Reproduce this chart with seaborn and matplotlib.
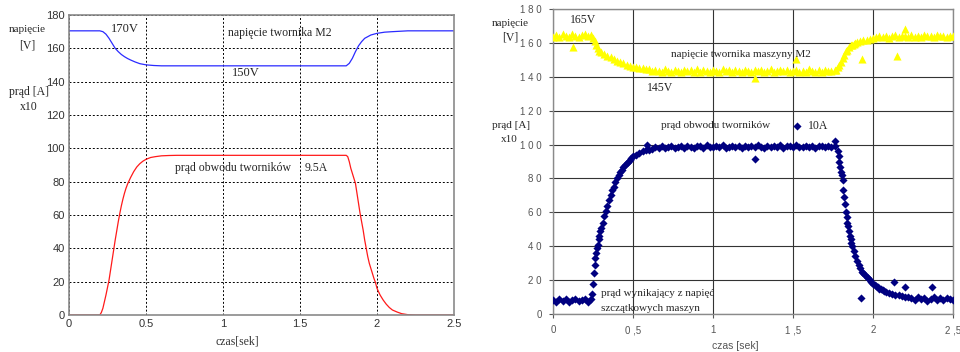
import numpy as np
import pandas as pd
import matplotlib
matplotlib.use("Agg")
import matplotlib.pyplot as plt
import seaborn as sns

# ---- dane: symulacja (lewy wykres) ----
sim_t_u = [0, 0.20, 0.22, 0.24, 0.26, 0.28, 0.30, 0.32, 0.34, 0.36, 0.38, 0.40, 0.43, 0.46,
           0.50, 0.55, 0.60, 1.0, 1.5, 1.80, 1.82, 1.84, 1.86, 1.88, 1.90, 1.92, 1.94, 1.96,
           1.98, 2.00, 2.05, 2.10, 2.20, 2.50]
sim_u = [170.5, 170.5, 170, 168.5, 166, 163, 160, 158, 156.3, 155, 153.9, 153, 151.8, 150.8,
         150.1, 149.7, 149.5, 149.5, 149.5, 149.5, 151, 154, 158, 161.5, 164, 166, 167, 168,
         168.5, 169, 169.7, 170, 170.5, 170.5]

sim_t_i = [0, 0.20, 0.21, 0.22, 0.23, 0.24, 0.25, 0.26, 0.27, 0.28, 0.29, 0.30, 0.31, 0.32,
           0.33, 0.34, 0.35, 0.36, 0.37, 0.38, 0.39, 0.40, 0.42, 0.44, 0.46, 0.48, 0.50, 0.53,
           0.56, 0.60, 0.65, 0.70, 1.0, 1.5, 1.80, 1.81, 1.82, 1.83, 1.84, 1.85, 1.86, 1.87,
           1.88, 1.89, 1.90, 1.91, 1.92, 1.93, 1.94, 1.95, 1.96, 1.97, 1.98, 1.99, 2.00, 2.02,
           2.04, 2.06, 2.08, 2.10, 2.13, 2.16, 2.20, 2.25, 2.50]
sim_i = [0, 0, 1.5, 4, 8, 12, 16.5, 21, 27, 33, 39, 45, 50.5, 56,
         61, 65.5, 69.5, 73, 76, 78.5, 80.5, 82.5, 86, 88.8, 90.8, 92.3, 93.4, 94.5,
         95, 95.5, 95.7, 95.8, 95.8, 95.8, 95.8, 95, 92, 88, 85, 82, 79, 73,
         67, 61, 56, 51, 45, 40, 35, 31, 28, 25, 22, 19.5, 16, 12,
         9, 6.5, 4.5, 3, 1.8, 0.8, 0.2, 0, 0]

# ---- dane: pomiar (prawy wykres) ----
# napięcie twornika maszyny M2
meas_u_t1 = np.round(np.arange(0, 0.2401, 0.02), 3)
meas_u_1 = [163.5, 164.8, 163.2, 165.1, 164.0, 163.4, 165.3, 164.2, 163.6, 164.9, 165.4, 163.8, 164.6]
meas_u_t2 = [0.25, 0.26, 0.27, 0.28, 0.29, 0.30, 0.32, 0.34, 0.36, 0.38, 0.40, 0.42, 0.44, 0.46,
             0.48, 0.50, 0.52, 0.54, 0.56, 0.58, 0.60]
meas_u_2 = [163, 161, 159, 157, 155.5, 154.5, 153.5, 152.5, 151.5, 150.5, 149.5, 148.5, 148, 147,
            146.5, 146, 145.5, 145, 145, 144.5, 144.5]
meas_u_t3 = np.round(np.arange(0.62, 1.7601, 0.02), 3)
meas_u_3 = [143.2, 144.1, 143.6, 142.8, 144.3, 143.5, 143.0, 144.0, 143.7, 142.9,
            144.2, 143.3, 143.8, 142.7, 144.4, 143.1, 143.9, 143.4, 142.8, 144.1,
            143.6, 143.0, 144.3, 143.2, 143.8, 142.9, 144.0, 143.5, 143.1, 144.2,
            143.7, 142.8, 143.9, 143.3, 144.1, 143.0, 143.6, 144.4, 142.9, 143.5,
            143.8, 143.2, 144.0, 142.7, 143.6, 144.2, 143.1, 143.7, 142.9, 144.3,
            143.4, 143.0, 143.8, 142.8, 144.1, 143.3, 143.5, 143.9]
meas_u_t4 = [1.77, 1.78, 1.79, 1.80, 1.81, 1.82, 1.83, 1.84, 1.85, 1.86, 1.87, 1.88, 1.89, 1.90,
             1.92, 1.94, 1.96, 1.98, 2.00]
meas_u_4 = [144, 145.5, 147, 149, 151, 153, 155, 156, 157.5, 158.5, 159, 159.5, 160, 160.5,
            161, 161.5, 162, 162.5, 163]
meas_u_t5 = np.round(np.arange(2.02, 2.5001, 0.02), 3)
meas_u_5 = [163.2, 164.0, 163.5, 164.3, 163.1, 163.8, 164.5, 163.4, 163.9, 164.2, 163.3, 164.6,
            163.7, 164.1, 163.5, 164.4, 163.8, 164.0, 163.4, 164.5, 163.9, 164.2, 163.6, 164.3, 163.8]
meas_u_out_t = [0.125, 1.26, 1.52, 1.93, 2.15, 2.2]
meas_u_out = [157.6, 139, 150.5, 150.5, 152, 168]

# prąd obwodu tworników (x10)
meas_i_t1 = np.round(np.arange(0, 0.2401, 0.02), 3)
meas_i_1 = [8.2, 7.1, 9.0, 7.6, 8.8, 7.3, 8.5, 9.1, 7.4, 8.0, 8.9, 7.2, 8.6]
meas_i_t2 = [0.245, 0.25, 0.255, 0.26, 0.265, 0.27, 0.275, 0.28, 0.285, 0.29, 0.295, 0.30,
             0.31, 0.32, 0.33, 0.34, 0.35, 0.36, 0.37, 0.38, 0.39, 0.40, 0.41, 0.42, 0.43, 0.44,
             0.45, 0.46, 0.47, 0.48, 0.49, 0.50, 0.52, 0.54, 0.56, 0.58, 0.60]
meas_i_2 = [12, 18, 24, 29, 33, 36, 39, 41, 44, 46, 49, 51,
            54, 58, 61, 64, 67, 70, 73, 75, 78, 80, 82, 84, 85, 87,
            88, 89, 90, 91, 92, 93, 94, 95, 96, 97, 97]
meas_i_t3 = np.round(np.arange(0.62, 1.7601, 0.02), 3)
meas_i_3 = [97.5, 98.4, 97.8, 99.1, 98.0, 98.7, 99.3, 97.9, 98.6, 99.0,
            98.2, 99.4, 98.5, 97.8, 99.2, 98.9, 98.1, 99.5, 98.4, 98.8,
            99.1, 98.3, 99.6, 98.0, 98.7, 99.2, 98.5, 99.0, 98.2, 99.4,
            98.6, 99.1, 98.3, 99.5, 98.8, 98.1, 99.3, 98.7, 99.0, 98.4,
            99.6, 98.2, 98.9, 99.2, 98.5, 99.7, 98.3, 98.8, 99.1, 98.6,
            99.4, 98.0, 98.9, 99.3, 98.4, 99.0, 98.7, 99.2]
meas_i_t4 = [1.78, 1.785, 1.79, 1.795, 1.80, 1.805, 1.81, 1.815, 1.82, 1.825, 1.83, 1.835, 1.84,
             1.845, 1.85, 1.855, 1.86, 1.865, 1.87, 1.88, 1.89, 1.90, 1.91, 1.92, 1.93, 1.94,
             1.95, 1.96, 1.97, 1.98, 1.99, 2.00, 2.01, 2.02, 2.03, 2.04, 2.05, 2.06, 2.07, 2.08,
             2.10, 2.12, 2.14, 2.16, 2.18, 2.20, 2.22]
meas_i_4 = [96, 93, 90, 87, 84, 82, 79, 73, 69, 65, 60, 57, 54,
            52, 49, 46, 44, 42, 40, 37, 34, 31, 29, 27, 25, 24,
            23, 22, 21, 20, 19, 18, 17, 16.5, 16, 15, 14.5, 14, 13.5, 13,
            12.5, 12, 11, 11, 10.5, 10, 10]
meas_i_t5 = np.round(np.arange(2.24, 2.5001, 0.02), 3)
meas_i_5 = [9.4, 8.1, 10.2, 8.7, 9.6, 7.9, 9.1, 10.0, 8.3, 9.5, 8.0, 9.2, 8.6, 8.4]
meas_i_out_t = [0.59, 1.26, 1.525, 1.76, 1.925, 2.13, 2.2, 2.37]
meas_i_out = [99.5, 91.5, 111, 102, 9.4, 19, 16, 16]

x_ticks = [0, 0.5, 1, 1.5, 2, 2.5]
x_labels_sim = ["0", "0.5", "1", "1.5", "2", "2.5"]
x_labels_meas = ["0", "0 ,5", "1", "1 ,5", "2", "2 ,5"]
y_ticks = [0, 20, 40, 60, 80, 100, 120, 140, 160, 180]
y_labels_meas = ["0", "2 0", "4 0", "6 0", "8 0", "1 0 0", "1 2 0", "1 4 0", "1 6 0", "1 8 0"]

# ---- tabele ----
sim_u_df = pd.DataFrame({"t": sim_t_u, "v": sim_u})
sim_i_df = pd.DataFrame({"t": sim_t_i, "v": sim_i})
meas_u_df = pd.DataFrame({
    "t": np.concatenate([meas_u_t1, meas_u_t2, meas_u_t3, meas_u_t4, meas_u_t5, meas_u_out_t]),
    "v": np.concatenate([meas_u_1, meas_u_2, meas_u_3, meas_u_4, meas_u_5, meas_u_out])})
meas_i_df = pd.DataFrame({
    "t": np.concatenate([meas_i_t1, meas_i_t2, meas_i_t3, meas_i_t4, meas_i_t5, meas_i_out_t]),
    "v": np.concatenate([meas_i_1, meas_i_2, meas_i_3, meas_i_4, meas_i_5, meas_i_out])})

sns.set_style("white")
plt.rcParams['font.family'] = ['Liberation Sans', 'DejaVu Sans']
serif = ['Liberation Serif', 'DejaVu Serif']

fig = plt.figure(figsize=(9.6, 3.52), dpi=100)
ax1 = fig.add_axes([69 / 960, 37 / 352, 385 / 960, 300 / 352])
ax2 = fig.add_axes([553 / 960, 38 / 352, 400 / 960, 305 / 352])

# ---- lewy wykres ----
sns.lineplot(data=sim_u_df, x="t", y="v", ax=ax1, color="#2b2bff", lw=0.9,
             sort=False, estimator=None)
sns.lineplot(data=sim_i_df, x="t", y="v", ax=ax1, color="#ff1a1a", lw=0.9,
             sort=False, estimator=None)
ax1.set_xlim(0, 2.5)
ax1.set_ylim(0, 180)
ax1.set_xticks(x_ticks)
ax1.set_xticklabels(x_labels_sim)
ax1.set_yticks(y_ticks)
ax1.grid(True, color="black", linestyle=(0, (2, 2)), lw=0.7)
ax1.tick_params(direction="in", length=3, labelsize=8, labelcolor="#333333", pad=3)
for s in ax1.spines.values():
    s.set_color("#8a8a8a")
    s.set_linewidth(1.2)
ax1.set_xlabel("")
ax1.set_ylabel("")

ax1.text(0.27, 171.5, "170V", family=serif, fontsize=9, va="center")
ax1.text(1.03, 169, "napięcie twornika M2", family=serif, fontsize=8.5, va="center")
ax1.text(1.06, 145, "150V", family=serif, fontsize=9, va="center")
ax1.text(0.69, 88, "prąd obwodu tworników", family=serif, fontsize=8.5, va="center")
ax1.text(1.53, 88, "9.5A", family=serif, fontsize=8.5, va="center")

fig.text(27 / 960, 1 - 30 / 352, "napięcie", family=serif, fontsize=8, ha="center", va="center")
fig.text(27 / 960, 1 - 45 / 352, "[V]", family=serif, fontsize=8.5, ha="center", va="center")
fig.text(29 / 960, 1 - 92 / 352, "prąd [A]", family=serif, fontsize=8.5, ha="center", va="center")
fig.text(29 / 960, 1 - 107 / 352, "x10", family=serif, fontsize=8.5, ha="center", va="center")
fig.text(237 / 960, 1 - 341 / 352, "czas[sek]", family=serif, fontsize=8.5, ha="center",
         va="center", color="#333333")

# ---- prawy wykres ----
sns.scatterplot(data=meas_u_df, x="t", y="v", ax=ax2, color="#ffff00", marker="^",
                s=34, linewidth=0, zorder=3)
sns.scatterplot(data=meas_i_df, x="t", y="v", ax=ax2, color="#000080", marker="D",
                s=17, linewidth=0, zorder=3)
ax2.set_xlim(0, 2.5)
ax2.set_ylim(0, 180)
ax2.set_xticks(x_ticks)
ax2.set_xticklabels(x_labels_meas)
ax2.set_yticks(y_ticks)
ax2.set_yticklabels(y_labels_meas)
ax2.grid(True, color="#333333", linestyle="-", lw=0.8)
ax2.tick_params(direction="out", length=3, labelsize=7, labelcolor="#555555",
                color="#555555", left=True, bottom=True, pad=5)
for s in ax2.spines.values():
    s.set_color("#8a8a8a")
    s.set_linewidth(1.0)
ax2.set_xlabel("")
ax2.set_ylabel("")

ax2.text(0.105, 173.5, "165V", family=serif, fontsize=8.5, va="center")
ax2.text(0.74, 153, "napięcie twornika maszyny M2", family=serif, fontsize=8, va="center")
ax2.text(0.59, 133.5, "145V", family=serif, fontsize=8.5, va="center")
ax2.text(0.675, 111, "prąd obwodu tworników", family=serif, fontsize=8, va="center")
ax2.text(1.595, 111, "10A", family=serif, fontsize=8.5, va="center")
ax2.text(0.30, 12, "prąd wynikający z napięć", family=serif, fontsize=8, va="center")
ax2.text(0.30, 3, "szczątkowych maszyn", family=serif, fontsize=8, va="center")

fig.text(510 / 960, 1 - 24 / 352, "napięcie", family=serif, fontsize=8, ha="center", va="center")
fig.text(510 / 960, 1 - 38 / 352, "[V]", family=serif, fontsize=8.5, ha="center", va="center")
fig.text(511 / 960, 1 - 126 / 352, "prąd [A]", family=serif, fontsize=8, ha="center", va="center")
fig.text(509 / 960, 1 - 140 / 352, "x10", family=serif, fontsize=8, ha="center", va="center")
fig.text(735 / 960, 1 - 346 / 352, "czas [sek]", fontsize=7.5, ha="center", va="center",
         color="#555555")

fig.savefig("out.png", dpi=100)
